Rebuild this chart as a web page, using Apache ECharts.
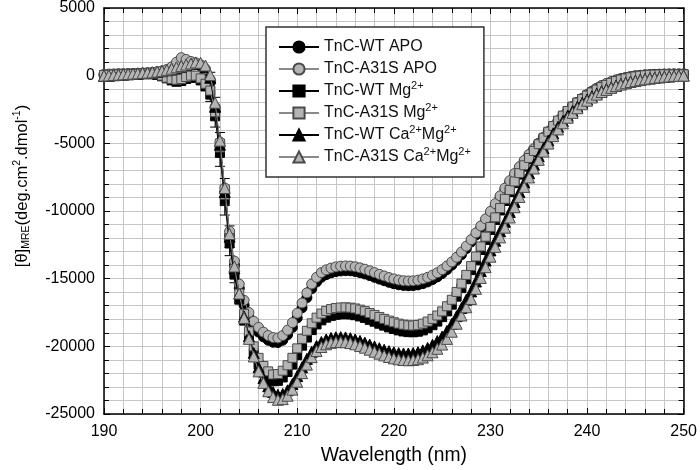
<!DOCTYPE html>
<html><head><meta charset="utf-8">
<script src="https://cdn.jsdelivr.net/npm/echarts@6/dist/echarts.min.js"></script>
<style>html,body{margin:0;padding:0;background:#fff}#c{width:700px;height:470px}</style>
</head><body><div id="c"></div>
<script>
const wavelength = [
190,190.5,191,191.5,192,192.5,193,193.5,194,194.5,
195,195.5,196,196.5,197,197.5,198,198.5,199,199.5,
200,200.5,201,201.5,202,202.5,203,203.5,204,204.5,
205,205.5,206,206.5,207,207.5,208,208.5,209,209.5,
210,210.5,211,211.5,212,212.5,213,213.5,214,214.5,
215,215.5,216,216.5,217,217.5,218,218.5,219,219.5,
220,220.5,221,221.5,222,222.5,223,223.5,224,224.5,
225,225.5,226,226.5,227,227.5,228,228.5,229,229.5,
230,230.5,231,231.5,232,232.5,233,233.5,234,234.5,
235,235.5,236,236.5,237,237.5,238,238.5,239,239.5,
240,240.5,241,241.5,242,242.5,243,243.5,244,244.5,
245,245.5,246,246.5,247,247.5,248,248.5,249,249.5,
250];

const wtApo = [
50,80,100,110,120,130,140,150,170,190,
220,260,320,420,600,900,1150,1100,950,850,
700,350,-500,-2600,-5200,-8600,-11800,-14000,-15700,-16950,
-17850,-18500,-18950,-19300,-19550,-19700,-19720,-19550,-19150,-18600,
-17900,-17150,-16400,-15750,-15250,-14900,-14700,-14570,-14480,-14430,
-14410,-14420,-14470,-14550,-14650,-14770,-14900,-15030,-15150,-15270,
-15370,-15450,-15500,-15520,-15510,-15460,-15370,-15240,-15070,-14870,
-14620,-14330,-14000,-13640,-13230,-12780,-12290,-11780,-11250,-10720,
-10160,-9580,-8990,-8410,-7850,-7310,-6800,-6320,-5860,-5430,
-5020,-4600,-4160,-3750,-3350,-2990,-2640,-2300,-1990,-1690,
-1410,-1160,-940,-750,-590,-450,-330,-230,-150,-80,
-20,20,50,70,90,100,110,115,120,120,
120];

const a31sApo = [
100,120,130,150,150,160,170,180,200,220,
250,290,350,450,650,1000,1330,1200,1050,950,
800,500,-300,-2300,-4900,-8300,-11500,-13700,-15400,-16600,
-17500,-18150,-18600,-18950,-19200,-19350,-19380,-19200,-18800,-18250,
-17550,-16800,-16050,-15400,-14900,-14550,-14350,-14220,-14130,-14080,
-14060,-14070,-14120,-14200,-14300,-14420,-14550,-14680,-14800,-14920,
-15020,-15100,-15150,-15170,-15160,-15110,-15020,-14900,-14740,-14560,
-14330,-14060,-13760,-13420,-13030,-12600,-12120,-11620,-11100,-10580,
-10030,-9460,-8880,-8310,-7760,-7230,-6730,-6260,-5810,-5390,
-4980,-4560,-4130,-3720,-3330,-2970,-2620,-2290,-1980,-1680,
-1400,-1150,-930,-740,-580,-440,-320,-220,-140,-70,
-10,30,60,80,100,110,120,125,130,130,
130];

const wtMg = [
0,20,40,60,70,80,90,100,110,120,
100,50,-50,-200,-350,-450,-400,-250,-150,-150,
-350,-800,-1400,-3000,-5700,-9200,-12400,-14700,-16550,-18100,
-19400,-20500,-21350,-21950,-22350,-22580,-22550,-22300,-21900,-21350,
-20650,-19950,-19350,-18800,-18380,-18080,-17880,-17750,-17670,-17630,
-17620,-17640,-17700,-17790,-17900,-18040,-18180,-18330,-18470,-18600,
-18720,-18820,-18900,-18950,-18960,-18920,-18820,-18660,-18440,-18170,
-17840,-17420,-16920,-16330,-15700,-15040,-14370,-13640,-12880,-12140,
-11400,-10670,-9960,-9260,-8590,-7940,-7310,-6720,-6170,-5640,
-5130,-4650,-4190,-3760,-3350,-2980,-2630,-2310,-2000,-1730,
-1480,-1250,-1040,-850,-690,-540,-410,-300,-210,-130,
-70,-20,20,50,70,80,90,90,90,90,
90];

const a31sMg = [
50,60,80,90,100,110,120,130,140,150,
150,100,0,-150,-250,-300,-250,-100,0,0,
-200,-600,-1100,-2700,-5300,-8800,-12000,-14300,-16100,-17600,
-18900,-20000,-20850,-21450,-21850,-22080,-22050,-21800,-21400,-20850,
-20150,-19450,-18850,-18300,-17880,-17580,-17380,-17250,-17170,-17130,
-17120,-17140,-17200,-17290,-17400,-17540,-17680,-17830,-17970,-18100,
-18220,-18320,-18400,-18450,-18460,-18420,-18320,-18170,-17970,-17720,
-17420,-17040,-16560,-15980,-15360,-14720,-14070,-13360,-12620,-11900,
-11180,-10470,-9780,-9100,-8450,-7820,-7200,-6620,-6080,-5560,
-5060,-4590,-4140,-3720,-3320,-2950,-2610,-2290,-1990,-1720,
-1470,-1240,-1030,-840,-680,-530,-400,-290,-200,-120,
-60,-10,30,60,80,90,100,100,100,100,
100];

const wtCa = [
-20,0,30,50,80,100,130,150,180,200,
230,280,330,400,480,580,680,780,860,930,
900,650,-150,-2300,-5100,-8600,-11900,-14200,-16100,-17800,
-19250,-20500,-21550,-22350,-22950,-23380,-23580,-23520,-23250,-22780,
-22200,-21550,-20930,-20400,-19970,-19680,-19490,-19380,-19330,-19320,
-19340,-19400,-19490,-19600,-19730,-19870,-20010,-20140,-20260,-20360,
-20440,-20500,-20530,-20530,-20500,-20430,-20300,-20120,-19890,-19610,
-19280,-18860,-18340,-17770,-17170,-16560,-15940,-15210,-14440,-13660,
-12910,-12200,-11500,-10800,-10070,-9330,-8600,-7890,-7210,-6570,
-5950,-5360,-4790,-4260,-3780,-3350,-2960,-2620,-2300,-2010,
-1760,-1530,-1330,-1150,-1000,-860,-730,-620,-530,-440,
-370,-300,-240,-190,-150,-110,-80,-50,-20,0,
10];

const a31sCa = [
0,20,50,70,100,120,150,170,200,220,
250,300,350,430,520,620,720,820,900,980,
950,750,50,-2000,-4800,-8300,-11700,-14100,-16100,-17900,
-19450,-20750,-21850,-22700,-23320,-23750,-23950,-23900,-23650,-23200,
-22620,-21980,-21350,-20800,-20350,-20050,-19850,-19740,-19690,-19680,
-19700,-19760,-19850,-19970,-20100,-20250,-20400,-20540,-20670,-20790,
-20890,-20960,-21010,-21030,-21010,-20950,-20830,-20660,-20440,-20180,
-19870,-19450,-18920,-18330,-17720,-17110,-16500,-15750,-14950,-14150,
-13380,-12650,-11950,-11230,-10480,-9720,-8960,-8220,-7520,-6860,
-6220,-5610,-5020,-4470,-3970,-3520,-3110,-2750,-2410,-2110,
-1850,-1610,-1400,-1210,-1050,-900,-770,-660,-560,-470,
-400,-330,-270,-220,-170,-130,-90,-60,-30,-10,
0];

// error bars (visible on the steep descent)
const errWavelength = [201, 201.5, 202, 202.5, 203, 203.5];
const errWtMg = [500, 800, 1000, 1100, 900, 600];
const errWtCa = [400, 700, 900, 1000, 800, 500];

const seriesNames = ['TnC-WT APO', 'TnC-A31S APO', 'TnC-WT Mg²⁺', 'TnC-A31S Mg²⁺', 'TnC-WT Ca²⁺Mg²⁺', 'TnC-A31S Ca²⁺Mg²⁺'];
const seriesValues = [wtApo, a31sApo, wtMg, a31sMg, wtCa, a31sCa];
const seriesSymbols = ['circle', 'circle', 'rect', 'rect', 'triangle', 'triangle'];
const symbolSizes = [10, 10, 9, 9, 11, 11];

const FONT = "Liberation Sans";

const pairs = vals => wavelength.map((w, i) => [w, vals[i]]);

const series = seriesNames.map((name, k) => {
  const wt = k % 2 === 0;
  return {
    name, type: 'line', data: pairs(seriesValues[k]),
    symbol: seriesSymbols[k], symbolSize: symbolSizes[k], showSymbol: true,
    lineStyle: wt ? {color: '#000', width: 1.5} : {color: '#8a8a8a', width: 1},
    itemStyle: wt ? {color: '#000', borderColor: '#000', borderWidth: 1}
                  : {color: '#b4b4b4', borderColor: '#4a4a4a', borderWidth: 1},
    emphasis: {disabled: true}, z: 3 + k
  };
});

const errData = [];
[[wtMg, errWtMg], [wtCa, errWtCa]].forEach(([vals, errs]) => {
  errWavelength.forEach((w, j) => {
    const v = vals[wavelength.indexOf(w)];
    errData.push([w, v - errs[j], v + errs[j]]);
  });
});

series.unshift({
  type: 'custom', name: 'err', data: errData, z: 2,
  encode: {x: 0, y: [1, 2]},
  renderItem: (params, api) => {
    const lo = api.coord([api.value(0), api.value(1)]);
    const hi = api.coord([api.value(0), api.value(2)]);
    const hw = 5;
    const st = {stroke: '#000', lineWidth: 1};
    return {type: 'group', children: [
      {type: 'line', shape: {x1: lo[0], y1: lo[1], x2: hi[0], y2: hi[1]}, style: st},
      {type: 'line', shape: {x1: lo[0]-hw, y1: lo[1], x2: lo[0]+hw, y2: lo[1]}, style: st},
      {type: 'line', shape: {x1: hi[0]-hw, y1: hi[1], x2: hi[0]+hw, y2: hi[1]}, style: st}
    ]};
  }
});

const gridColor = '#c6c6c6';
const axisBase = (extra) => Object.assign({
  type: 'value',
  axisLine: {show: true, onZero: false, lineStyle: {color: '#000', width: 1.5}},
  axisTick: {show: true, inside: true, length: 6, lineStyle: {color: '#000', width: 1}},
  minorTick: {show: true, splitNumber: 5, length: 5, lineStyle: {color: '#000', width: 1}},
}, extra);

const chart = echarts.init(document.getElementById('c'), null, {renderer: 'canvas'});
chart.setOption({
  animation: false,
  backgroundColor: '#fff',
  textStyle: {fontFamily: FONT},
  grid: {left: 104, right: 13, top: 6, bottom: 54},
  legend: {
    data: seriesNames, orient: 'vertical', left: 266, top: 27,
    padding: [9, 13, 9, 12], itemGap: 0, itemWidth: 40, itemHeight: 14,
    backgroundColor: '#fff', borderColor: '#333', borderWidth: 1.5, borderRadius: 0,
    selectedMode: false, z: 20,
    textStyle: {fontSize: 16, color: '#111', lineHeight: 22, fontFamily: FONT,
      rich: {sup: {fontSize: 11, lineHeight: 12, verticalAlign: 'top', color: '#111', fontFamily: FONT}}},
    formatter: name => name.replace(/²⁺/g, '{sup|2+}')
  },
  xAxis: [
    axisBase({min: 190, max: 250, interval: 10, position: 'bottom',
      splitLine: {show: true, lineStyle: {color: gridColor, width: 1}},
      minorSplitLine: {show: true, lineStyle: {color: gridColor, width: 1}},
      axisLabel: {color: '#000', fontSize: 16, margin: 9.5, fontFamily: FONT},
      name: 'Wavelength (nm)', nameLocation: 'middle', nameGap: 32,
      nameTextStyle: {fontSize: 19.3, color: '#000', fontFamily: FONT}}),
    axisBase({min: 190, max: 250, interval: 10, position: 'top',
      splitLine: {show: false}, axisLabel: {show: false}})
  ],
  yAxis: [
    axisBase({min: -25000, max: 5000, interval: 5000, position: 'left',
      splitLine: {show: true, lineStyle: {color: gridColor, width: 1}},
      minorSplitLine: {show: true, lineStyle: {color: gridColor, width: 1}},
      axisLabel: {color: '#000', fontSize: 16, margin: 9, fontFamily: FONT, formatter: v => String(v)},
      name: '{n|[θ]}{sub|MRE}{n|(deg.cm}{sup|2}{n|.dmol}{sup|-1}{n|)}',
      nameLocation: 'middle', nameRotate: 90, nameGap: 72,
      nameTextStyle: {color: '#000', fontFamily: FONT, fontSize: 16.5, padding: [0, 0, 0, 50],
        rich: {
          n: {fontSize: 16.5, lineHeight: 20, color: '#000', fontFamily: FONT},
          sub: {fontSize: 10.5, lineHeight: 11, verticalAlign: 'bottom', color: '#000', fontFamily: FONT},
          sup: {fontSize: 10.5, lineHeight: 11, verticalAlign: 'top', color: '#000', fontFamily: FONT}
        }}}),
    axisBase({min: -25000, max: 5000, interval: 5000, position: 'right',
      splitLine: {show: false}, axisLabel: {show: false}})
  ],
  series
});
</script>
</body></html>
